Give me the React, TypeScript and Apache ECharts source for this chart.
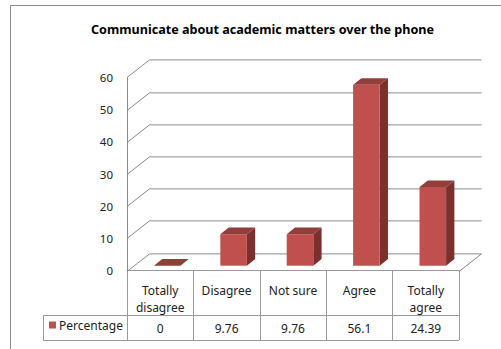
import React, { useEffect, useRef } from "react";
import * as echarts from "echarts";

const titleText = "Communicate about academic matters over the phone";
const categories = ["Totally\ndisagree", "Disagree", "Not sure", "Agree", "Totally\nagree"];
const values = [0, 9.76, 9.76, 56.1, 24.39];
const valueLabels = ["0", "9.76", "9.76", "56.1", "24.39"];
const yTicks = [0, 10, 20, 30, 40, 50, 60];
const seriesName = "Percentage";

const FONT = "'Noto Sans', 'Open Sans', sans-serif";
const GRID_LEFT = 127;
const GRID_TOP = 77.3;
const GRID_W = 332;
const GRID_H = 193.4;
const BACK_DX = 22.5;
const BACK_DY = -17.6;
const LINE = "#8c8c8c";
const TABLE_LINE = "#9a9a9a";

export default function App() {
  const ref = useRef<HTMLDivElement>(null);
  useEffect(() => {
    if (!ref.current) return;
    const chart = echarts.init(ref.current, undefined, { renderer: "svg" });
    const option: any = {
      animation: false,
      title: {
        text: titleText,
        left: 86,
        top: 18,
        textStyle: { fontFamily: FONT, fontSize: 12.6, fontWeight: "bold", color: "#000" },
      },
      legend: {
        data: [{ name: seriesName, icon: "rect" }],
        left: 49,
        top: 319,
        padding: 0,
        itemWidth: 7,
        itemHeight: 7,
        itemGap: 0,
        selectedMode: false,
        textStyle: { fontFamily: FONT, fontSize: 12, color: "#222", padding: [0, 0, 0, -2] },
      },
      grid: { left: GRID_LEFT, top: GRID_TOP, width: GRID_W, height: GRID_H, containLabel: false },
      xAxis: {
        type: "category",
        data: categories,
        boundaryGap: true,
        axisLine: { show: true, lineStyle: { color: TABLE_LINE, width: 1 } },
        axisTick: { show: true, length: 69.3, alignWithLabel: false, lineStyle: { color: TABLE_LINE, width: 1 } },
        axisLabel: {
          interval: 0,
          margin: 11,
          fontFamily: FONT,
          fontSize: 12,
          lineHeight: 17,
          color: "#222",
        },
        splitLine: { show: false },
      },
      yAxis: {
        type: "value",
        min: 0,
        max: 60,
        interval: 10,
        axisLine: { show: true, lineStyle: { color: LINE, width: 1 } },
        axisTick: { show: false },
        axisLabel: { margin: 14, fontFamily: FONT, fontSize: 11.5, color: "#222" },
        splitLine: { show: false },
      },
      graphic: [
        {
          type: "rect",
          silent: true,
          shape: { x: 10.5, y: 5.5, width: 600, height: 500 },
          style: { fill: "none", stroke: "#8a8a8a", lineWidth: 1 },
          z: -10,
        },
        {
          type: "line",
          silent: true,
          shape: { x1: 43, y1: 315.5, x2: GRID_LEFT + GRID_W, y2: 315.5 },
          style: { stroke: TABLE_LINE, lineWidth: 1 },
        },
        {
          type: "line",
          silent: true,
          shape: { x1: 43, y1: 340.5, x2: GRID_LEFT + GRID_W, y2: 340.5 },
          style: { stroke: TABLE_LINE, lineWidth: 1 },
        },
        {
          type: "line",
          silent: true,
          shape: { x1: 43.5, y1: 315.5, x2: 43.5, y2: 340.5 },
          style: { stroke: TABLE_LINE, lineWidth: 1 },
        },
      ],
      series: [
        {
          type: "custom",
          name: "frame",
          silent: true,
          z: 1,
          data: yTicks.map((v) => [0, v]),
          renderItem: (params: any, api: any) => {
            const cs = params.coordSys;
            const v = api.value(1);
            const y = Math.round(api.coord([0, v])[1]) + 0.5;
            const x0 = cs.x;
            const children: any[] = [
              {
                type: "line",
                shape: { x1: x0, y1: y, x2: x0 + BACK_DX, y2: y + BACK_DY },
                style: { stroke: LINE, lineWidth: 1 },
              },
              {
                type: "line",
                shape: { x1: x0 + BACK_DX, y1: y + BACK_DY, x2: x0 + cs.width + BACK_DX, y2: y + BACK_DY },
                style: { stroke: LINE, lineWidth: 1 },
              },
            ];
            if (v === 0) {
              children.push({
                type: "line",
                shape: { x1: x0 + cs.width, y1: y, x2: x0 + cs.width + BACK_DX, y2: y + BACK_DY },
                style: { stroke: LINE, lineWidth: 1 },
              });
            }
            return { type: "group", children };
          },
        },
        {
          type: "custom",
          name: seriesName,
          z: 2,
          itemStyle: { color: "#C0504D" },
          data: values.map((v, i) => [i, v]),
          renderItem: (params: any, api: any) => {
            const i = api.value(0);
            const v = api.value(1);
            const p0 = api.coord([i, 0]);
            const p1 = api.coord([i, v]);
            const bw = api.size([1, 0])[0];
            const w = bw * 0.4;
            const fdx = 7;
            const fdy = -5;
            const ddx = 8.3;
            const ddy = -6.7;
            const x1 = p0[0] - w / 2 + fdx;
            const x2 = x1 + w;
            const yb = p0[1] + fdy;
            const yt = p1[1] + fdy;
            const children: any[] = [];
            if (yb - yt > 0.5) {
              children.push({
                type: "polygon",
                shape: { points: [[x2, yb], [x2 + ddx, yb + ddy], [x2 + ddx, yt + ddy], [x2, yt]] },
                style: { fill: "#7C302E" },
              });
              children.push({
                type: "rect",
                shape: { x: x1, y: yt, width: w, height: yb - yt },
                style: { fill: "#C0504D" },
              });
            }
            children.push({
              type: "polygon",
              shape: { points: [[x1, yt], [x2, yt], [x2 + ddx, yt + ddy], [x1 + ddx, yt + ddy]] },
              style: { fill: "#923E3B" },
            });
            children.push({
              type: "text",
              style: {
                text: valueLabels[i],
                x: p0[0],
                y: p0[1] + 57.5,
                align: "center",
                verticalAlign: "middle",
                fontFamily: FONT,
                fontSize: 12,
                fill: "#222",
              },
            });
            return { type: "group", children };
          },
        },
      ],
    };
    chart.setOption(option);
    return () => chart.dispose();
  }, []);
  return (
    <div
      ref={ref}
      style={{ position: "absolute", left: 0, top: 0, width: 501, height: 349, background: "#fff" }}
    />
  );
}
